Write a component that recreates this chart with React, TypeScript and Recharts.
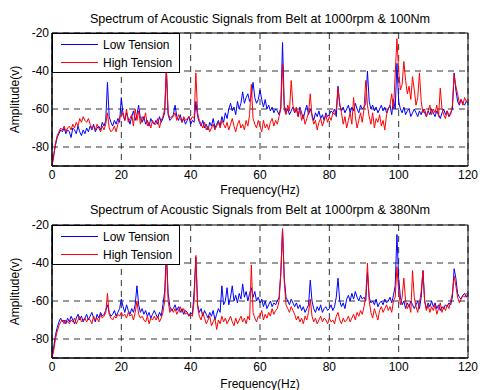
import React from 'react';
import { LineChart, Line, XAxis, YAxis, CartesianGrid, ReferenceArea } from 'recharts';

// spectra sampled every 0.5 Hz, 0..120 Hz
const freqHz = Array.from({ length: 241 }, (_, i) => i * 0.5);

const low100 = [
  -90, -84, -79, -75, -73, -71, -72, -70, -73, -71,
  -72, -75, -70, -71, -73, -69, -72, -74, -71, -73,
  -70, -72, -69, -71, -68, -72, -70, -69, -71, -67,
  -69, -66, -46, -64, -67, -69, -66, -68, -65, -67,
  -54, -63, -66, -62, -65, -68, -64, -61, -66, -63,
  -58, -65, -67, -64, -68, -66, -69, -65, -67, -68,
  -66, -68, -64, -67, -65, -62, -40, -63, -66, -65,
  -63, -58, -64, -66, -63, -67, -65, -68, -66, -64,
  -68, -66, -67, -56, -64, -67, -69, -66, -70, -68,
  -71, -67, -69, -65, -70, -68, -66, -69, -64, -67,
  -62, -65, -60, -57, -61, -59, -63, -56, -60, -57,
  -51, -57, -54, -52, -56, -53, -46, -54, -57, -55,
  -50, -55, -59, -55, -60, -58, -61, -59, -62, -60,
  -61, -63, -59, -25, -58, -62, -60, -63, -61, -59,
  -62, -60, -64, -59, -62, -65, -61, -58, -63, -60,
  -63, -66, -62, -64, -61, -65, -63, -66, -62, -64,
  -63, -61, -62, -60, -64, -48, -58, -61, -59, -62,
  -60, -58, -62, -59, -61, -57, -60, -62, -58, -60,
  -59, -57, -40, -56, -60, -58, -61, -59, -62, -60,
  -58, -61, -59, -62, -60, -58, -63, -55, -60, -36,
  -56, -60, -62, -59, -63, -61, -60, -64, -62, -60,
  -62, -64, -61, -63, -60, -62, -64, -61, -63, -60,
  -62, -64, -61, -63, -65, -62, -60, -63, -61, -64,
  -62, -60, -41, -50, -56, -58, -55, -57, -58, -56,
  -57,
];

const high100 = [
  -90, -85, -78, -74, -72, -70, -71, -69, -72, -70,
  -69, -71, -68, -70, -67, -69, -65, -67, -64, -66,
  -67, -65, -68, -70, -69, -71, -68, -70, -72, -69,
  -71, -68, -62, -70, -72, -71, -69, -72, -68, -64,
  -64, -62, -66, -60, -67, -65, -63, -69, -60, -66,
  -61, -68, -64, -66, -62, -69, -67, -70, -66, -68,
  -68, -65, -70, -66, -64, -60, -38, -62, -65, -64,
  -64, -62, -66, -63, -65, -67, -64, -66, -65, -64,
  -66, -64, -65, -41, -62, -66, -68, -70, -67, -71,
  -69, -72, -70, -68, -71, -69, -67, -70, -66, -68,
  -70, -67, -71, -68, -65, -69, -72, -68, -66, -70,
  -68, -71, -66, -69, -63, -47, -65, -68, -70, -66,
  -69, -72, -66, -70, -68, -71, -67, -65, -69, -66,
  -68, -64, -60, -36, -60, -63, -58, -61, -45, -58,
  -62, -59, -64, -60, -66, -63, -68, -65, -62, -52,
  -64, -68, -66, -71, -67, -65, -69, -66, -63, -67,
  -64, -66, -62, -63, -60, -49, -57, -62, -68, -64,
  -70, -66, -62, -68, -54, -64, -70, -66, -62, -67,
  -60, -45, -58, -64, -68, -62, -70, -65, -67, -63,
  -69, -66, -71, -63, -60, -58, -52, -60, -42, -23,
  -40, -50, -47, -35, -45, -52, -48, -55, -43, -50,
  -58, -54, -41, -56, -62, -60, -64, -61, -58, -63,
  -60, -62, -58, -64, -49, -60, -63, -65, -61, -64,
  -63, -58, -42, -48, -52, -57, -55, -58, -54, -56,
  -55,
];

const low380 = [
  -90, -84, -78, -74, -71, -69, -71, -70, -72, -69,
  -71, -68, -70, -72, -69, -67, -70, -68, -71, -69,
  -67, -70, -68, -66, -69, -71, -67, -69, -66, -68,
  -67, -65, -62, -66, -68, -67, -65, -68, -66, -64,
  -59, -63, -66, -62, -65, -67, -64, -66, -62, -52,
  -62, -66, -64, -67, -65, -68, -66, -69, -67, -65,
  -67, -69, -66, -68, -62, -55, -34, -56, -63, -65,
  -64, -62, -65, -63, -66, -64, -67, -65, -66, -68,
  -66, -67, -55, -37, -62, -66, -64, -68, -65, -67,
  -69, -66, -68, -65, -70, -67, -64, -66, -52, -62,
  -60, -53, -62, -58, -52, -60, -57, -61, -56, -59,
  -51, -58, -55, -60, -56, -53, -58, -55, -60, -58,
  -61, -59, -63, -60, -64, -62, -60, -63, -61, -62,
  -60, -58, -45, -22, -48, -58, -60, -62, -59, -61,
  -63, -61, -64, -62, -65, -63, -66, -64, -62, -49,
  -60, -64, -66, -63, -65, -62, -66, -64, -63, -65,
  -64, -62, -65, -63, -58, -48, -60, -63, -61, -64,
  -59, -57, -60, -56, -59, -55, -58, -60, -57, -59,
  -58, -60, -45, -58, -61, -60, -62, -59, -63, -61,
  -60, -62, -59, -61, -60, -58, -61, -57, -52, -25,
  -48, -58, -62, -60, -64, -61, -63, -60, -62, -64,
  -62, -60, -64, -58, -44, -60, -64, -61, -63, -60,
  -63, -61, -64, -62, -65, -63, -64, -62, -63, -61,
  -62, -58, -43, -48, -56, -58, -59, -57, -56, -58,
  -56,
];

const high380 = [
  -90, -86, -80, -76, -73, -71, -70, -72, -70, -71,
  -72, -70, -71, -69, -72, -70, -68, -71, -70, -69,
  -71, -69, -70, -72, -68, -70, -69, -71, -67, -69,
  -68, -66, -56, -67, -69, -70, -68, -69, -67, -68,
  -66, -68, -67, -69, -66, -68, -67, -70, -66, -60,
  -67, -69, -68, -70, -71, -68, -72, -69, -70, -68,
  -70, -68, -71, -69, -66, -60, -36, -60, -66, -64,
  -66, -64, -67, -65, -63, -66, -64, -67, -66, -68,
  -67, -68, -60, -36, -63, -68, -70, -66, -69, -72,
  -70, -68, -73, -71, -69, -75, -70, -72, -68, -71,
  -69, -72, -70, -68, -71, -73, -69, -72, -70, -68,
  -71, -69, -72, -68, -70, -41, -66, -69, -71, -68,
  -68, -65, -70, -67, -69, -66, -68, -64, -67, -65,
  -64, -60, -46, -22, -50, -62, -64, -66, -63, -65,
  -67, -70, -68, -71, -69, -72, -68, -70, -66, -59,
  -68, -71, -69, -72, -70, -68, -71, -69, -70, -72,
  -69, -71, -70, -72, -68, -66, -70, -72, -69, -71,
  -70, -68, -71, -69, -67, -70, -66, -68, -65, -67,
  -63, -58, -40, -60, -66, -69, -64, -67, -70, -65,
  -63, -66, -64, -62, -65, -63, -66, -60, -58, -42,
  -55, -62, -58, -48, -60, -64, -62, -66, -44, -58,
  -63, -66, -61, -55, -44, -60, -65, -62, -66, -63,
  -65, -62, -67, -64, -61, -66, -63, -65, -62, -64,
  -60, -56, -47, -52, -58, -61, -59, -57, -58, -56,
  -57,
];

const xTicks = [0, 20, 40, 60, 80, 100, 120];
const yTicks = [-80, -60, -40, -20];

const rows100 = freqHz.map((f, i) => ({ f, low: low100[i], high: high100[i] }));
const rows380 = freqHz.map((f, i) => ({ f, low: low380[i], high: high380[i] }));

const font = '"Liberation Sans", Arial, sans-serif';

function Spectrum({ data, top, xAxisHeight, labelOffset }) {
  return (
    <LineChart width={480} height={200} data={data} margin={{ top, right: 12, left: 0, bottom: 0 }}>
      <CartesianGrid stroke="#333" strokeDasharray="6 5" />
      <XAxis
        type="number"
        dataKey="f"
        domain={[0, 120]}
        ticks={xTicks}
        tickLine={false}
        tickSize={0}
        tickMargin={4}
        height={xAxisHeight}
        axisLine={{ stroke: '#000' }}
        tick={{ fontSize: 12, fill: '#000' }}
        label={{ value: 'Frequency(Hz)', position: 'insideBottom', offset: labelOffset, fontSize: 12, fill: '#000' }}
      />
      <YAxis
        type="number"
        domain={[-90, -20]}
        ticks={yTicks}
        allowDataOverflow
        width={52}
        tickLine={false}
        tickSize={0}
        tickMargin={3}
        axisLine={{ stroke: '#000' }}
        tick={{ fontSize: 12, fill: '#000' }}
        label={{ value: 'Amplitude(v)', angle: -90, position: 'insideLeft', offset: 15, fontSize: 12, fill: '#000', style: { textAnchor: 'middle' } }}
      />
      <ReferenceArea x1={0} x2={120} y1={-90} y2={-20} fill="none" fillOpacity={0} stroke="#000" strokeWidth={1} />
      <Line type="linear" dataKey="low" stroke="#0000ff" strokeWidth={1} dot={false} isAnimationActive={false} />
      <Line type="linear" dataKey="high" stroke="#ff0000" strokeWidth={1} dot={false} isAnimationActive={false} />
    </LineChart>
  );
}

function Key({ top }) {
  const row = (color, text, y) => (
    <div style={{ position: 'absolute', left: 0, top: y - 8, height: 16, width: 128 }}>
      <div style={{ position: 'absolute', left: 8, top: 7, width: 37, height: 1, background: color }} />
      <span style={{ position: 'absolute', left: 50, top: 0, lineHeight: '16px', fontSize: 12 }}>{text}</span>
    </div>
  );
  return (
    <div style={{ position: 'absolute', left: 52, top, width: 126, height: 38, border: '1px solid #000', background: '#fff' }}>
      {row('#0000ff', 'Low Tension', 11)}
      {row('#ff0000', 'High Tension', 29)}
    </div>
  );
}

const titleStyle = { position: 'absolute', left: 52, width: 416, textAlign: 'center', fontSize: 12.6, lineHeight: '14px' } as const;

export default function App() {
  return (
    <div style={{ position: 'absolute', left: 0, top: 0, width: 480, height: 390, background: '#fff', fontFamily: font, color: '#000', overflow: 'hidden' }}>
      <div style={{ position: 'absolute', left: 0, top: 0 }}>
        <Spectrum data={rows100} top={33} xAxisHeight={34} labelOffset={6} />
      </div>
      <div style={{ position: 'absolute', left: 0, top: 195 }}>
        <Spectrum data={rows380} top={30} xAxisHeight={37} labelOffset={7} />
      </div>
      <div style={{ ...titleStyle, top: 12 }}>Spectrum of Acoustic Signals from Belt at 1000rpm &amp; 100Nm</div>
      <div style={{ ...titleStyle, top: 203 }}>Spectrum of Acoustic Signals from Belt at 1000rpm &amp; 380Nm</div>
      <Key top={33} />
      <Key top={225} />
    </div>
  );
}
